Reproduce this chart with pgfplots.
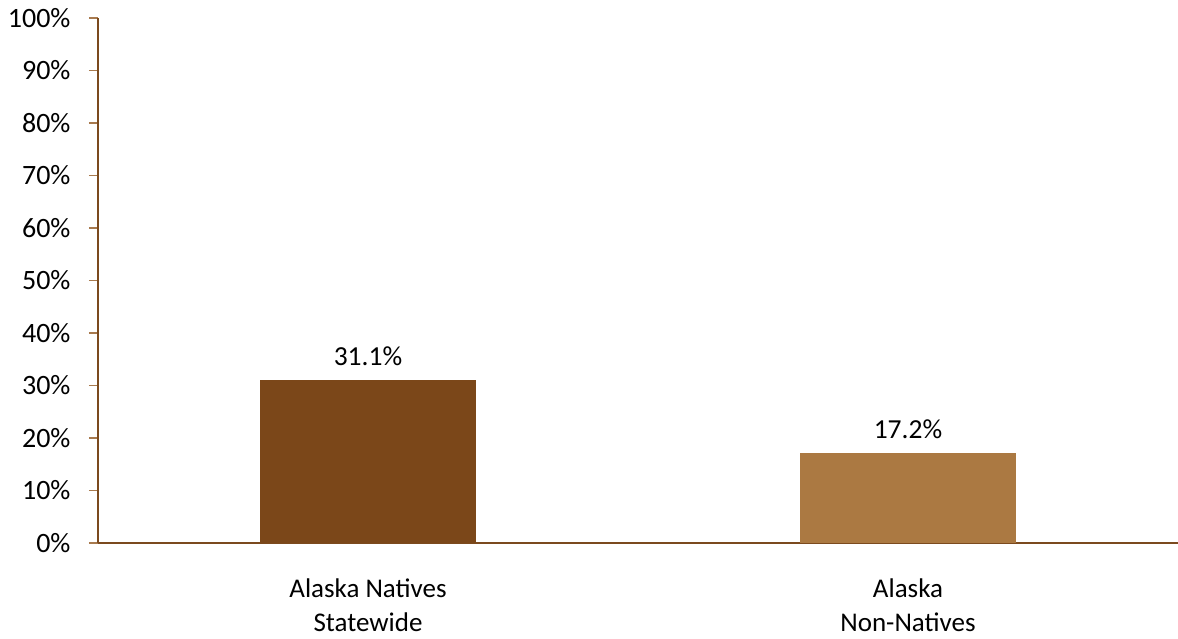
\documentclass[border=0pt]{standalone}
\usepackage{pgfplots}
\pgfplotsset{compat=1.18}
\usepackage{fontspec}
\setmainfont{Carlito}
\definecolor{axbrown}{HTML}{7B4A1E}
\definecolor{tickbrown}{HTML}{A87A4E}
\definecolor{barone}{HTML}{7B4719}
\definecolor{bartwo}{HTML}{AB7942}
\begin{document}
\begin{tikzpicture}
\fontsize{28}{34}\selectfont
\begin{axis}[
  scale only axis,
  width=1080pt, height=525pt,
  xmin=-0.5, xmax=1.5,
  ymin=0, ymax=100,
  axis x line*=bottom, axis y line*=left,
  axis line style={axbrown, line width=2pt},
  ytick={0,10,...,100},
  yticklabel={\pgfmathparse{int(\tick)}\pgfmathresult\%},
  yticklabel style={font=\fontsize{28}{34}\selectfont, text=black, xshift=-9pt},
  ytick style={tickbrown, line width=1.5pt},
  tick align=outside,
  major tick length=9pt,
  xtick={0,1},
  xticklabels={Alaska Natives\\Statewide, Alaska\\Non-Natives},
  xticklabel style={align=center, font=\fontsize{27}{34}\selectfont, text=black, inner sep=0pt, yshift=-27pt},
  x tick style={draw=none},
  ybar, bar width=216pt,
  nodes near coords,
  point meta=explicit symbolic,
  nodes near coords style={font=\fontsize{27.5}{33}\selectfont, text=black, yshift=4pt},
  /pgf/number format/assume math mode=true,
  clip=false,
]
\addplot[fill=barone, draw=none, bar shift=0pt] coordinates {(0,31.1) [31.1\%]};
\addplot[fill=bartwo, draw=none, bar shift=0pt] coordinates {(1,17.2) [17.2\%]};
\end{axis}
\pgfresetboundingbox
\path ([shift={(-98pt,-95pt)}]current axis.south west) rectangle ++(1178pt,638pt);
\end{tikzpicture}
\end{document}
